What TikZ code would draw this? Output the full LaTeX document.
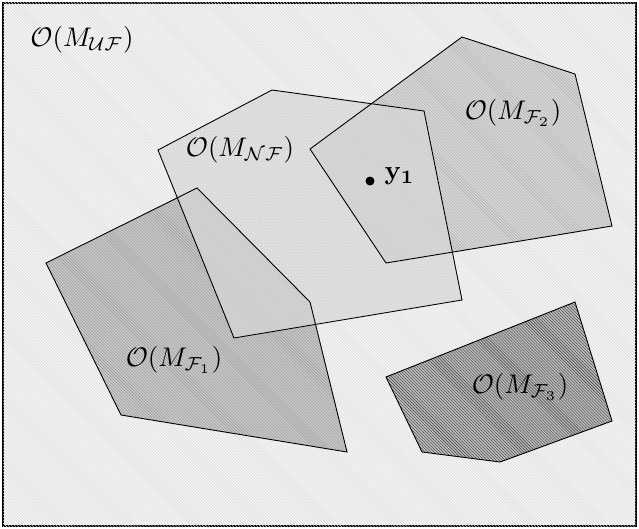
\documentclass[tikz,border=0pt]{standalone}
\usetikzlibrary{patterns}
\definecolor{bgfill}{gray}{0.96}
\definecolor{bgline}{gray}{0.84}
\definecolor{nffill}{gray}{0.86}
\tikzset{
  region/.style 2 args={fill=#1,
    postaction={pattern=north west lines, pattern color=#2}},
  edge/.style={draw=black, line width=0.9pt, line join=miter},
  fname/.style={scale=2.7, transform shape, inner sep=0pt},
  dot/.style={circle, fill=black, inner sep=0pt, minimum size=9pt}
}
\def\polyFone{(197,188) -- (310,302) -- (347,452) -- (121,415) -- (46,263) -- cycle}
\def\polyFtwo{(462,37) -- (575,74) -- (612,226) -- (386,263) -- (310,149) -- cycle}
\def\polyFthree{(386,377) -- (575,302) -- (612,421) -- (500,462) -- (422,452) -- cycle}
\def\polyNF{(158,150) -- (272,90) -- (424,111) -- (462,300) -- (234,338) -- cycle}

\begin{document}
\begin{tikzpicture}[x=1bp, y=-1bp]
  \useasboundingbox (0,0) rectangle (639,529);
  % universe
  \filldraw[line width=1.4pt, fill=bgfill,
    postaction={pattern=north west lines, pattern color=bgline}]
    (3,3) rectangle (636,526);
  % single filters
  \fill[region={gray!42}{gray!85}] \polyFone;
  \fill[region={gray!30}{gray!68}] \polyFtwo;
  \fill[region={gray!52}{black!78}] \polyFthree;
  % non-filtered, on top
  \fill[nffill, fill opacity=0.7] \polyNF;
  \fill[pattern=crosshatch dots, pattern color=gray!50, fill opacity=0.6] \polyNF;
  % outlines
  \foreach \p in {\polyFone, \polyFtwo, \polyFthree, \polyNF}
    \draw[edge] \p;
  % labels
  \node[fname] (uf) at (82,40) {$\mathcal{O}(M_{\mathcal{UF}})$};
  \node[fname] (nf) at (240,150) {$\mathcal{O}(M_{\mathcal{NF}})$};
  \node[fname] (f1) at (174,360) {$\mathcal{O}(M_{\mathcal{F}_1})$};
  \node[fname] (f2) at (513,113) {$\mathcal{O}(M_{\mathcal{F}_2})$};
  \node[fname] (f3) at (520,387) {$\mathcal{O}(M_{\mathcal{F}_3})$};
  \node[dot] (y1) at (370,181) {};
  \node[fname, anchor=west] (y1lab) at (384,176) {$\mathbf{y_1}$};
\end{tikzpicture}
\end{document}
